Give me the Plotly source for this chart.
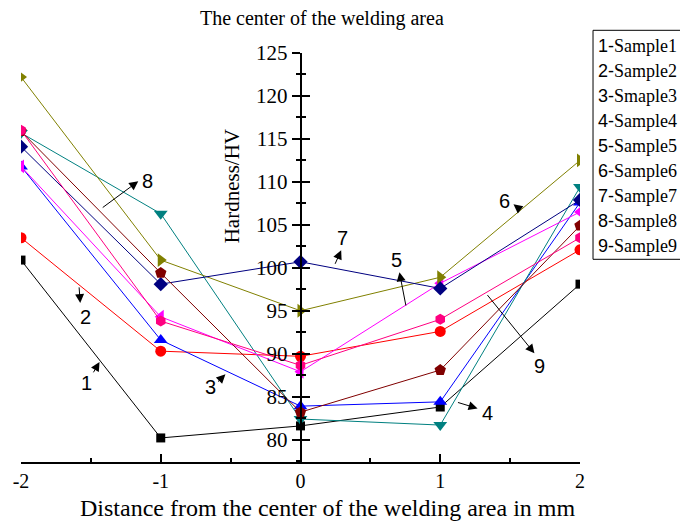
import plotly.graph_objects as go

# ---- data ----
distance = [-2, -1, 0, 1, 2]
sample1 = [100.9, 80.2, 81.6, 83.8, 98.1]
sample2 = [103.5, 90.3, 89.7, 92.6, 102.1]
sample3 = [111.8, 91.6, 83.9, 84.4, 107.6]
sample4 = [115.7, 106.3, 82.4, 81.7, 109.4]
sample5 = [111.8, 94.3, 87.9, 98.2, 106.5]
sample6 = [122.2, 100.9, 95.0, 98.9, 112.5]
sample7 = [114.1, 98.1, 100.7, 97.6, 107.9]
sample8 = [115.9, 99.4, 83.2, 88.1, 104.9]
sample9 = [116.0, 93.8, 88.65, 94.0, 103.5]
legend_labels = ["1-Sample1", "2-Sample2", "3-Smaple3", "4-Sample4", "5-Sample5",
                 "6-Sample6", "7-Sample7", "8-Sample8", "9-Sample9"]
x_tick_vals = [-2, -1, 0, 1, 2]
x_tick_text = ["-2", "-1", "0", "1", "2"]

series = [sample1, sample2, sample3, sample4, sample5, sample6, sample7, sample8, sample9]
colors = ["#000000", "#FF0000", "#0000FF", "#008080", "#FF00FF",
          "#808000", "#000080", "#800000", "#FF0080"]
symbols = ["square", "circle", "triangle-up", "triangle-down", "triangle-left",
           "triangle-right", "diamond", "pentagon", "hexagon"]
sizes = [9, 11, 12, 12, 12, 12, 11, 12, 11]

SERIF = "Liberation Serif, Times New Roman, serif"
SANS = "Liberation Sans, Arial, sans-serif"

fig = go.Figure()
for i, vals in enumerate(series):
    fig.add_trace(go.Scatter(
        x=distance, y=vals, mode="lines+markers", name=legend_labels[i],
        line=dict(color=colors[i], width=1),
        marker=dict(symbol=symbols[i], size=sizes[i], color=colors[i]),
        showlegend=False, cliponaxis=True,
    ))

yr = [77.4, 125]
fig.update_layout(
    width=680, height=523,
    margin=dict(l=21, r=100, t=53, b=61),
    plot_bgcolor="white", paper_bgcolor="white",
    showlegend=False,
    xaxis=dict(range=[-2, 2], showgrid=False, zeroline=False, showline=True,
               linecolor="black", linewidth=1.5, ticks="inside", ticklen=8,
               tickwidth=1.5, tickcolor="black",
               tickvals=x_tick_vals, ticktext=x_tick_text,
               tickfont=dict(family=SERIF, size=20, color="black"),
               minor=dict(dtick=0.5, ticks="inside", ticklen=4, tickwidth=1.5,
                          tickcolor="black")),
    yaxis=dict(range=yr, anchor="free", position=0.5, showgrid=False, zeroline=False,
               showline=True, linecolor="black", linewidth=1.5,
               ticks="outside", ticklen=8, tickwidth=1.5, tickcolor="black",
               dtick=5, tick0=80,
               tickfont=dict(family=SERIF, size=21, color="black"),
               minor=dict(dtick=2.5, ticks="outside", ticklen=4, tickwidth=1.5,
                          tickcolor="black")),
    yaxis2=dict(range=yr, anchor="free", position=0.5, overlaying="y",
                showgrid=False, zeroline=False, showline=False,
                ticks="inside", ticklen=8, tickwidth=1.5, tickcolor="black",
                dtick=5, tick0=80, showticklabels=False,
                minor=dict(dtick=2.5, ticks="inside", ticklen=4, tickwidth=1.5,
                           tickcolor="black")),
)
# invisible trace to activate yaxis2
fig.add_trace(go.Scatter(x=[None], y=[None], yaxis="y2", showlegend=False, hoverinfo="skip"))

# titles
fig.add_annotation(text="The center of the welding area", xref="paper", yref="paper",
                   x=0.5385, y=(461.7 - 18) / 409, xanchor="center", yanchor="middle",
                   showarrow=False, font=dict(family=SERIF, size=20, color="black"))
fig.add_annotation(text="Distance from the center of the welding area in mm",
                   xref="paper", yref="paper", x=0.549, y=(461.7 - 508) / 409,
                   xanchor="center", yanchor="middle", showarrow=False,
                   font=dict(family=SERIF, size=24, color="black"))
fig.add_annotation(text="Hardness/HV", xref="paper", yref="paper",
                   x=(232 - 21) / 559, y=(461.7 - 186) / 409, textangle=-90,
                   xanchor="center", yanchor="middle", showarrow=False,
                   font=dict(family=SERIF, size=21, color="black"))

# legend box
fig.add_shape(type="rect", xref="paper", yref="paper", x0=1.0233, x1=1.25,
              y0=0.4956, y1=1.0555, line=dict(color="black", width=1))
for i, lab in enumerate(legend_labels):
    num, rest = lab.split("-", 1)
    py = 46 + 25 * i
    fig.add_annotation(
        text=f"<span style='font-family:Liberation Sans, Arial'>{num}-</span>{rest}",
        xref="paper", yref="paper", x=(596 - 21) / 559, y=(461.7 - py) / 409,
        xanchor="left", yanchor="middle", showarrow=False,
        font=dict(family=SERIF, size=18, color="black"))

# numbered arrows: (label, label_x, label_y, tail_x, tail_y, head_x, head_y)
callouts = [
    ("1", -1.528, 86.55, -1.488, 87.66, -1.438, 89.03),
    ("2", -1.538, 94.24, -1.585, 97.90, -1.576, 95.90),
    ("3", -0.644, 86.09, -0.601, 86.59, -0.537, 87.60),
    ("4", 1.338, 83.06, 1.116, 84.38, 1.267, 83.64),
    ("5", 0.685, 100.87, 0.756, 95.44, 0.708, 99.48),
    ("6", 1.460, 107.74, 1.572, 106.78, 1.524, 107.39),
    ("7", 0.304, 103.43, 0.243, 100.29, 0.291, 102.04),
    ("8", -1.095, 110.07, -1.426, 106.89, -1.161, 110.07),
    ("9", 1.710, 88.53, 1.329, 97.0, 1.674, 90.05),
]
for lab, lx, ly, tx, ty, hx, hy in callouts:
    fig.add_annotation(x=hx, y=hy, ax=tx, ay=ty, xref="x", yref="y", axref="x", ayref="y",
                       text="", showarrow=True, arrowhead=2, arrowsize=1.8,
                       arrowwidth=1, arrowcolor="black", standoff=0, startstandoff=0)
    fig.add_annotation(x=lx, y=ly, xref="x", yref="y", text=lab, showarrow=False,
                       xanchor="center", yanchor="middle",
                       font=dict(family=SANS, size=20, color="black"))

fig.write_html("out.html")
